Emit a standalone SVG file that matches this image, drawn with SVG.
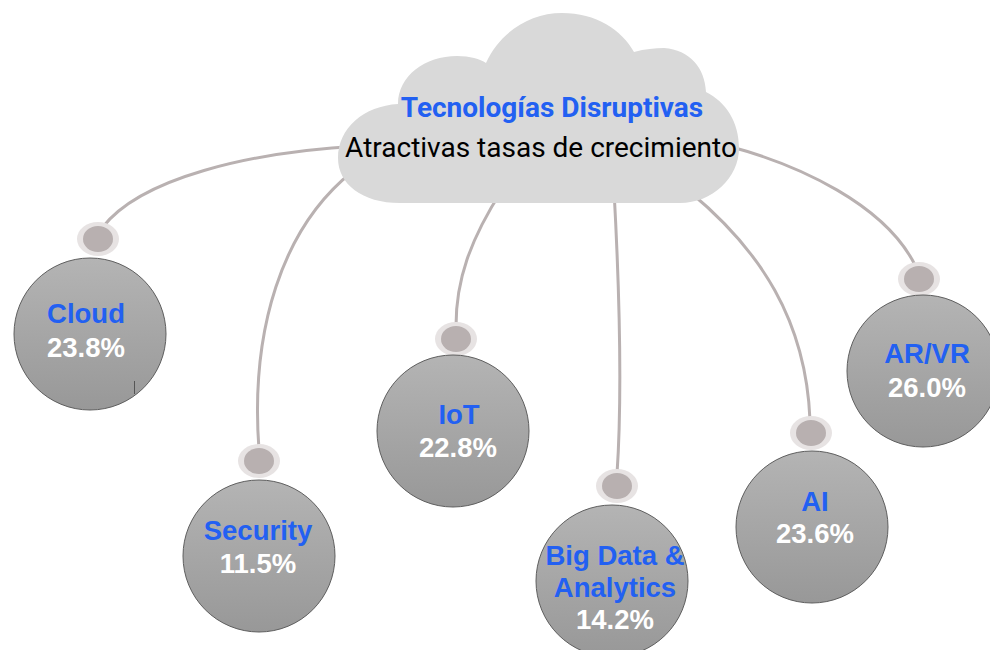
<svg xmlns="http://www.w3.org/2000/svg" width="990" height="650" viewBox="0 0 990 650">
<defs>
<linearGradient id="g" x1="0" y1="0" x2="0" y2="1">
<stop offset="0" stop-color="#b4b4b4"/>
<stop offset="1" stop-color="#989898"/>
</linearGradient>
<style>
.conn{fill:none;stroke:#b9b1b1;stroke-width:3;stroke-linecap:round}
.ball{fill:url(#g);stroke:#5e5e5e;stroke-width:1}
.ring{fill:#e7e3e3}
.knob{fill:#b8b0b0}
.lbl{font-family:"Liberation Sans",Arial,sans-serif;font-weight:bold;font-size:27.5px;text-anchor:middle}
.b{fill:#2260f2}
.w{fill:#ffffff}
</style>
</defs>
<rect width="990" height="650" fill="#ffffff"/>
<g id="connectors">
<path class="conn" d="M 360 146 C 250 152, 140 178, 102 228"/>
<path class="conn" d="M 352 172 C 282 228, 250 330, 259 450"/>
<path class="conn" d="M 502 190 C 470 240, 456 280, 456 326"/>
<path class="conn" d="M 614 190 C 620 300, 622 400, 617 474"/>
<path class="conn" d="M 690 192 C 760 250, 806 320, 810 420"/>
<path class="conn" d="M 728 146 C 800 165, 885 205, 915 265"/>
</g>
<g id="hub">
<path d="M 400 203 C 362 203 338 184 338 158 C 338 128 364 106 398 104 C 398 76 425 56 457 56 C 470 56 480 59 486 63 C 500 32 530 13 562 13 C 596 13 622 30 634 52 C 645 49 655 48 664 48 C 690 50 705 68 706 92 C 726 102 739 122 739 148 C 739 178 712 203 680 203 Z" fill="#d9d9d9"/>
<text x="552" y="117" font-family="Roboto,'Liberation Sans',sans-serif" font-weight="bold" font-size="28" fill="#2260f2" text-anchor="middle">Tecnologías Disruptivas</text>
<text x="541" y="157" font-family="Roboto,'Liberation Sans',sans-serif" font-size="28" fill="#000000" text-anchor="middle">Atractivas tasas de crecimiento</text>
</g>
<g id="cloud">
<ellipse class="ring" cx="98" cy="239" rx="21" ry="17"/>
<ellipse class="knob" cx="98" cy="239" rx="15" ry="13"/>
<circle class="ball" cx="90" cy="334" r="76"/>
<line x1="134.5" y1="381" x2="134.5" y2="394" stroke="#555" stroke-width="1"/>
<text class="lbl b" x="86" y="323">Cloud</text>
<text class="lbl w" x="86" y="357">23.8%</text>
</g>
<g id="security">
<ellipse class="ring" cx="259" cy="461" rx="21" ry="17"/>
<ellipse class="knob" cx="259" cy="461" rx="15" ry="13"/>
<circle class="ball" cx="259" cy="556" r="76"/>
<text class="lbl b" x="258" y="540">Security</text>
<text class="lbl w" x="258" y="573">11.5%</text>
</g>
<g id="iot">
<ellipse class="ring" cx="456" cy="339" rx="21" ry="17"/>
<ellipse class="knob" cx="456" cy="339" rx="15" ry="13"/>
<circle class="ball" cx="453" cy="431" r="76"/>
<text class="lbl b" x="459" y="424">IoT</text>
<text class="lbl w" x="458" y="457">22.8%</text>
</g>
<g id="bigdata">
<ellipse class="ring" cx="617" cy="486" rx="21" ry="17"/>
<ellipse class="knob" cx="617" cy="486" rx="15" ry="13"/>
<circle class="ball" cx="612" cy="581" r="76"/>
<text class="lbl b" x="615" y="565">Big Data &amp;</text>
<text class="lbl b" x="615" y="597">Analytics</text>
<text class="lbl w" x="615" y="629">14.2%</text>
</g>
<g id="ai">
<ellipse class="ring" cx="811" cy="433" rx="21" ry="17"/>
<ellipse class="knob" cx="811" cy="433" rx="15" ry="13"/>
<circle class="ball" cx="812" cy="527" r="76"/>
<text class="lbl b" x="815" y="511">AI</text>
<text class="lbl w" x="815" y="543">23.6%</text>
</g>
<g id="arvr">
<ellipse class="ring" cx="919" cy="279" rx="21" ry="17"/>
<ellipse class="knob" cx="919" cy="279" rx="15" ry="13"/>
<circle class="ball" cx="923" cy="371" r="76"/>
<text class="lbl b" x="927" y="363">AR/VR</text>
<text class="lbl w" x="927" y="397">26.0%</text>
</g>
</svg>
